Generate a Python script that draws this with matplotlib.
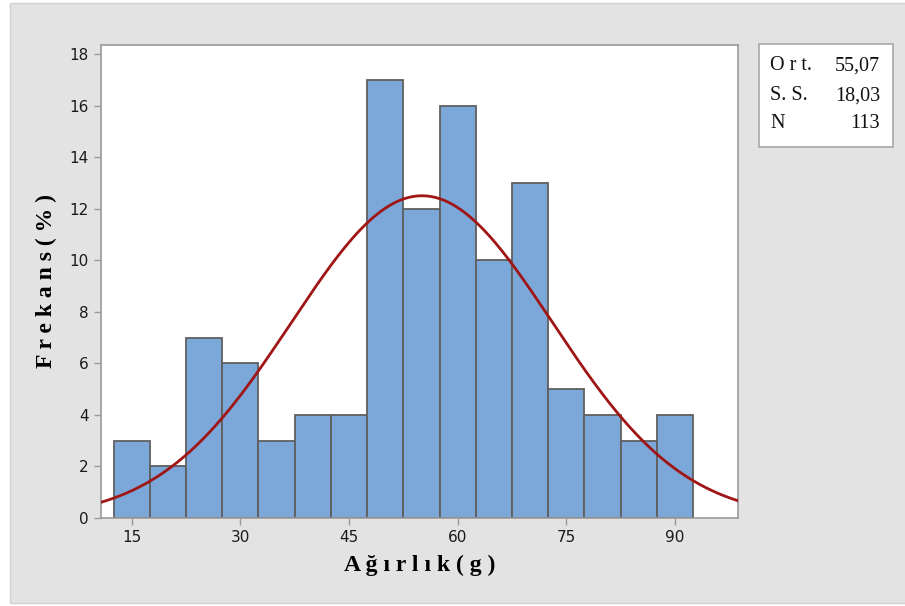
import matplotlib
matplotlib.use("Agg")
import matplotlib.pyplot as plt
from matplotlib.patches import Rectangle
import numpy as np

# histogram data (bin centres, counts)
bin_centers = [15, 20, 25, 30, 35, 40, 45, 50, 55, 60, 65, 70, 75, 80, 85, 90]
counts = [3, 2, 7, 6, 3, 4, 4, 17, 12, 16, 10, 13, 5, 4, 3, 4]
bin_width = 5

# fitted normal
mean = 55.07
std = 18.03
n_obs = 113

x_ticks = [15, 30, 45, 60, 75, 90]
y_ticks = [0, 2, 4, 6, 8, 10, 12, 14, 16, 18]

stat_labels = ["O r t.", "S. S.", "N"]
stat_values = ["55,07", "18,03", "113"]

BAR_COLOR = "#7BA7D9"
EDGE_COLOR = "#5f5f5f"
CURVE_COLOR = "#A01515"
PANEL_COLOR = "#E3E3E3"
AXIS_GRAY = "#9a9a9a"

fig = plt.figure(figsize=(9.05, 6.06), dpi=100)
fig.patch.set_facecolor("white")

# gray panel behind the chart
W, H = 905, 606
fig.patches.append(Rectangle((10 / W, 3 / H), 1, (603 - 3) / H,
                             transform=fig.transFigure, facecolor=PANEL_COLOR,
                             edgecolor="#d0d0d0", linewidth=1.0, zorder=-5))

ax = fig.add_axes([101 / W, (H - 518) / H, (738 - 101) / W, (518 - 45) / H])
ax.set_zorder(2)
ax.set_facecolor("white")

ax.bar(bin_centers, counts, width=bin_width, color=BAR_COLOR,
       edgecolor=EDGE_COLOR, linewidth=1.3, zorder=2)

xs = np.linspace(10.76, 98.7, 400)
ys = n_obs * bin_width / (std * np.sqrt(2 * np.pi)) * np.exp(-((xs - mean) ** 2) / (2 * std ** 2))
ax.plot(xs, ys, color=CURVE_COLOR, linewidth=2.0, zorder=3)

ax.set_xlim(10.76, 98.7)
ax.set_ylim(0, 18.35)
ax.set_xticks(x_ticks)
ax.set_yticks(y_ticks)
ax.tick_params(axis="both", direction="out", length=5, width=1, color=AXIS_GRAY,
               labelsize=11, labelcolor="#1a1a1a", pad=4)
for spine in ax.spines.values():
    spine.set_color(AXIS_GRAY)
    spine.set_linewidth(1.2)

ax.set_xlabel("A ğ ı r l ı k ( g )", fontsize=17, fontweight="bold",
              family="Liberation Serif", labelpad=7)
ax.set_ylabel("F r e k a n s ( % )", fontsize=17, fontweight="bold",
              family="Liberation Serif", labelpad=9)

# stats box
fig.patches.append(Rectangle((759 / W, (H - 147) / H), (893 - 759) / W, (147 - 44) / H,
                             transform=fig.transFigure, facecolor="white",
                             edgecolor="#a8a8a8", linewidth=1.2, zorder=1))
row_y = [66, 96, 124]
for lab, val, yy in zip(stat_labels, stat_values, row_y):
    fig.text(770 / W, (H - yy) / H, lab, fontsize=14.5, family="Liberation Serif",
             ha="left", va="center", color="#111111", zorder=3)
    fig.text(880 / W, (H - yy) / H, val, fontsize=14.5, family="Liberation Serif",
             ha="right", va="center", color="#111111", zorder=3)

fig.savefig("out.png", dpi=100, facecolor=fig.get_facecolor())
